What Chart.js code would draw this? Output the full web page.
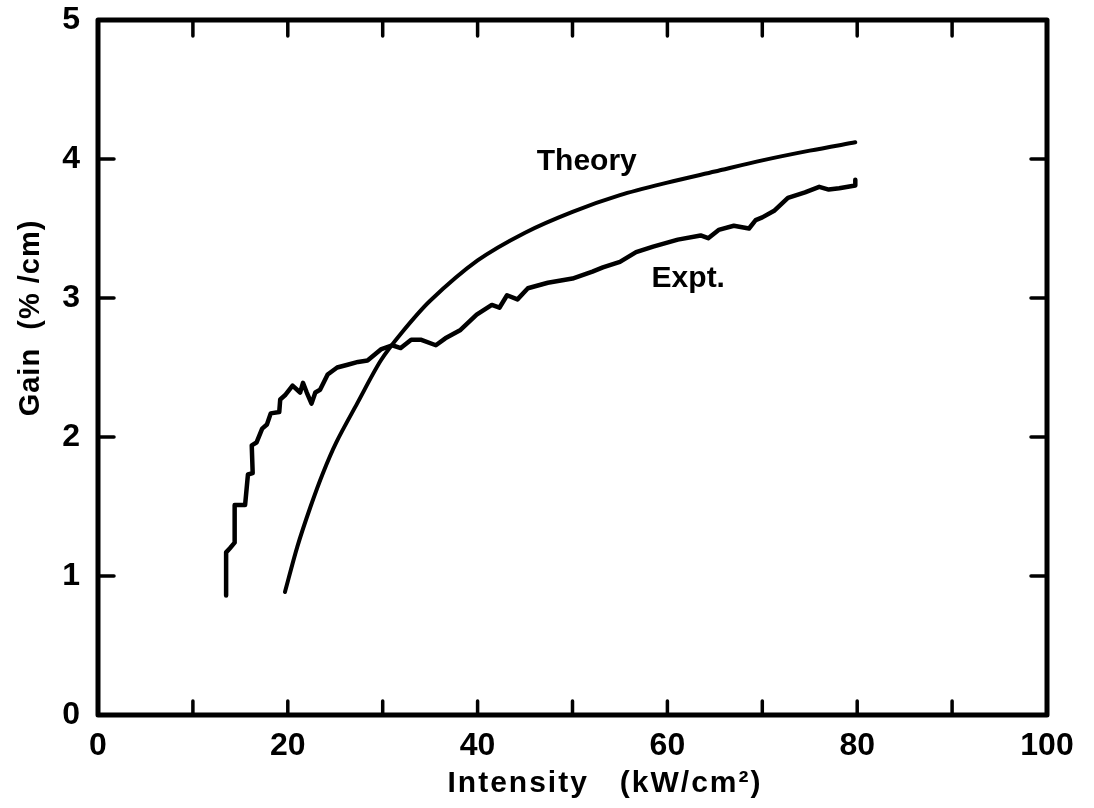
<!DOCTYPE html>
<html>
<head>
<meta charset="utf-8">
<script src="https://cdn.jsdelivr.net/npm/chart.js@4.4.1/dist/chart.umd.min.js"></script>
<style>
  html, body { margin: 0; padding: 0; background: #fff; }
  #wrap { width: 1094px; height: 808px; }
</style>
</head>
<body>
<div id="wrap"><canvas id="gainChart" width="1094" height="808"></canvas></div>
<script>
// Values
const theoryIntensity = [19.7, 21, 22.4, 23.7, 25.1, 27.3, 29.8, 32, 35, 40, 45, 50, 55, 60, 65, 70, 75, 79.8];
const theoryGain = [0.885, 1.21, 1.50, 1.74, 1.96, 2.24, 2.55, 2.75, 2.98, 3.27, 3.47, 3.62, 3.74, 3.83, 3.91, 3.99, 4.06, 4.12];

const exptIntensity = [13.5, 13.5, 13.9, 14.4, 14.4, 15.5, 15.8, 16.3, 16.2, 16.7, 17.3, 17.8, 18.2, 19.1, 19.2, 19.7,
  20.5, 21.3, 21.6, 22.0, 22.5, 22.9, 23.4, 24.2, 25.2, 26.3, 27.4, 28.4, 29.8, 31.0, 31.9, 33.0, 34.0, 35.6, 36.6,
  38.2, 39.9, 41.5, 42.3, 43.1, 44.2, 45.3, 47.4, 50.0, 52.1, 53.2, 55.0, 56.7, 58.5, 61.1, 63.5, 64.3, 65.4, 67.0,
  68.6, 69.3, 70.0, 71.3, 72.7, 74.5, 76.0, 77.0, 78.1, 79.8, 79.8];
const exptGain = [0.86, 1.17, 1.20, 1.24, 1.51, 1.51, 1.73, 1.74, 1.94, 1.96, 2.06, 2.09, 2.17, 2.18, 2.27, 2.30,
  2.37, 2.32, 2.39, 2.32, 2.24, 2.32, 2.34, 2.45, 2.50, 2.52, 2.54, 2.55, 2.63, 2.66, 2.64, 2.70, 2.70, 2.66, 2.71,
  2.77, 2.88, 2.95, 2.93, 3.02, 2.99, 3.07, 3.11, 3.14, 3.19, 3.22, 3.26, 3.33, 3.37, 3.42, 3.45, 3.43, 3.49, 3.52,
  3.50, 3.56, 3.58, 3.63, 3.72, 3.76, 3.80, 3.78, 3.79, 3.81, 3.85];

const xTicks = [0, 10, 20, 30, 40, 50, 60, 70, 80, 90, 100];
const xLabelled = [0, 20, 40, 60, 80, 100];
const yTicks = [0, 1, 2, 3, 4, 5];

// curve labels, in data coordinates
const curveLabels = [
  { text: 'Theory', x: 51.5, y: 3.98 },
  { text: 'Expt.', x: 62.2, y: 3.14 }
];

const toPoints = (xs, ys) => xs.map((x, i) => ({ x: x, y: ys[i] }));

const FONT = '"Liberation Sans", Arial, sans-serif';
const INK = '#000';

// frame, inward ticks, axis titles and curve labels
const framePlugin = {
  id: 'frame',
  afterDraw(chart) {
    const { ctx, chartArea: a, scales } = chart;
    ctx.save();
    ctx.strokeStyle = INK;
    ctx.lineCap = 'round';
    ctx.lineWidth = 3.5;
    xTicks.slice(1, -1).forEach(v => {
      const px = scales.x.getPixelForValue(v);
      ctx.beginPath();
      ctx.moveTo(px, a.bottom); ctx.lineTo(px, a.bottom - 14);
      ctx.moveTo(px, a.top); ctx.lineTo(px, a.top + 16);
      ctx.stroke();
    });
    yTicks.slice(1, -1).forEach(v => {
      const py = scales.y.getPixelForValue(v);
      ctx.beginPath();
      ctx.moveTo(a.left, py); ctx.lineTo(a.left + 16, py);
      ctx.moveTo(a.right, py); ctx.lineTo(a.right - 16, py);
      ctx.stroke();
    });
    ctx.lineWidth = 5;
    ctx.lineJoin = 'round';
    ctx.strokeRect(a.left, a.top, a.right - a.left, a.bottom - a.top);

    ctx.fillStyle = INK;
    ctx.textAlign = 'center';
    ctx.textBaseline = 'middle';
    ctx.font = 'bold 30px ' + FONT;
    curveLabels.forEach(l => {
      ctx.fillText(l.text, scales.x.getPixelForValue(l.x), scales.y.getPixelForValue(l.y));
    });

    // x title
    ctx.font = 'bold 30px ' + FONT;
    ctx.letterSpacing = '2px';
    ctx.fillText('Intensity   (kW/cm\u00B2)', 605, 784);

    // y title
    ctx.translate(31, 318);
    ctx.rotate(-Math.PI / 2);
    ctx.font = 'bold 29px ' + FONT;
    ctx.letterSpacing = '1px';
    ctx.fillText('Gain  (% /cm)', 0, 0);
    ctx.restore();
  }
};

const ctx = document.getElementById('gainChart').getContext('2d');
const chart = new Chart(ctx, {
  type: 'scatter',
  data: {
    datasets: [
      {
        label: 'Theory',
        data: toPoints(theoryIntensity, theoryGain),
        showLine: true,
        borderColor: INK,
        borderWidth: 4,
        pointRadius: 0,
        tension: 0.3,
        borderCapStyle: 'round'
      },
      {
        label: 'Expt.',
        data: toPoints(exptIntensity, exptGain),
        showLine: true,
        borderColor: INK,
        borderWidth: 4.5,
        pointRadius: 0,
        tension: 0,
        borderCapStyle: 'round',
        borderJoinStyle: 'round'
      }
    ]
  },
  options: {
    responsive: false,
    animation: false,
    layout: { padding: { top: 20, right: 47, left: 0, bottom: 0 } },
    plugins: { legend: { display: false }, tooltip: { enabled: false } },
    scales: {
      x: {
        type: 'linear',
        min: 0,
        max: 100,
        afterBuildTicks: (scale) => { scale.ticks = xTicks.map(v => ({ value: v })); },
        afterFit: (scale) => {
          scale.height = 93;
          scale.paddingLeft = 0; scale.paddingRight = 0;
        },
        grid: { display: false, drawTicks: false },
        border: { display: false },
        ticks: {
          color: INK,
          padding: 12,
          font: { family: FONT, size: 32, weight: 'bold' },
          maxRotation: 0,
          autoSkip: false,
          callback: (v) => xLabelled.includes(v) ? String(v) : ''
        }
      },
      y: {
        type: 'linear',
        min: 0,
        max: 5,
        afterBuildTicks: (scale) => { scale.ticks = yTicks.map(v => ({ value: v })); },
        afterFit: (scale) => {
          scale.width = 98;
          scale.paddingTop = 0; scale.paddingBottom = 0;
        },
        grid: { display: false, drawTicks: false },
        border: { display: false },
        ticks: { color: INK, padding: 18, font: { family: FONT, size: 32, weight: 'bold' } }
      }
    }
  },
  plugins: [framePlugin]
});
</script>
</body>
</html>
